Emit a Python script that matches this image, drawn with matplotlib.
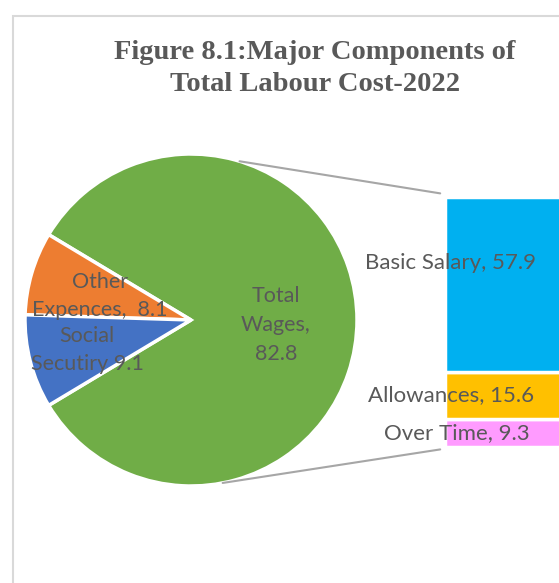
import numpy as np
import matplotlib
matplotlib.use('Agg')
import matplotlib.pyplot as plt
from matplotlib.patches import ConnectionPatch, Rectangle

# pie data
pie_labels = ['Total\nWages,\n82.8', 'Other\nExpences,  8.1', 'Social\nSecutiry 9.1']
pie_values = [82.8, 8.1, 9.1]
pie_colors = ['#70ad47', '#ed7d31', '#4472c4']

# bar (breakdown of total wages), bottom to top
bar_labels = ['Over Time, 9.3', 'Allowances, 15.6', 'Basic Salary, 57.9']
bar_values = [9.3, 15.6, 57.9]
bar_colors = ['#ff9bff', '#ffc000', '#00b0f0']

title_lines = ['Figure 8.1:Major Components of', 'Total Labour Cost-2022']
text_color = '#595959'
W, H = 559, 583

fig = plt.figure(figsize=(W / 100, H / 100), dpi=100)

# light chart border (cropped on right and bottom)
fig.patches.append(Rectangle((13 / W, -0.1), 1.2, (H - 16) / H + 0.1, transform=fig.transFigure,
                             fill=False, edgecolor='#d9d9d9', linewidth=1.5))

for line, yb in zip(title_lines, [59, 91]):
    fig.text(315 / W, 1 - yb / H, line, ha='center', va='baseline', family='Liberation Serif',
             fontweight='bold', fontsize=20.5, color=text_color)

# pie axes: centre (191, 320) px, radius 166 px
cx, cy, r = 191, 320, 166
ax_pie = fig.add_axes([(cx - r) / W, (H - cy - r) / H, 2 * r / W, 2 * r / H])
start = -pie_values[0] / sum(pie_values) * 180
ax_pie.pie(pie_values, colors=pie_colors, startangle=start, counterclock=True,
           wedgeprops=dict(edgecolor='white', linewidth=2.5))
ax_pie.set_xlim(-1, 1)
ax_pie.set_ylim(-1, 1)
ax_pie.set_aspect('equal')
ax_pie.axis('off')

# label centres in pixels -> pie data coords
label_px = [(276, 325), (100, 296), (87, 350)]
for lab, (px, py) in zip(pie_labels, label_px):
    ax_pie.text((px - cx) / r, (cy - py) / r, lab, ha='center', va='center', family='Lato',
                fontsize=15.5, color=text_color, linespacing=1.55)

# bar axes: left 445 px, bottom 447 px, top 197 px
bar_top, bar_bot = 197, 447
ax_bar = fig.add_axes([445 / W, (H - bar_bot) / H, 160 / W, (bar_bot - bar_top) / H])
total = sum(bar_values)
bottom = 0
label_frac = [0.5, 0.5, 0.62]
label_dx = [0.075, 0.04, 0.035]
for lab, v, c, f, dx in zip(bar_labels, bar_values, bar_colors, label_frac, label_dx):
    ax_bar.bar(0, v, width=1, bottom=bottom, align='edge', color=c, edgecolor='white', linewidth=2.5)
    ax_bar.text(dx, bottom + v * f, lab, ha='center', va='center', family='Lato', fontsize=16,
                color=text_color)
    bottom += v
ax_bar.set_xlim(0, 1)
ax_bar.set_ylim(0, total)
ax_bar.axis('off')

# connector lines from pie to bar
for ang, yb in [(73, total + 1.2), (-79, -0.8)]:
    a = np.deg2rad(ang)
    con = ConnectionPatch(xyA=(np.cos(a), np.sin(a)), coordsA=ax_pie.transData,
                          xyB=(-0.03, yb), coordsB=ax_bar.transData,
                          color='#a6a6a6', linewidth=1.5)
    fig.add_artist(con)

fig.savefig('out.png', dpi=100)
